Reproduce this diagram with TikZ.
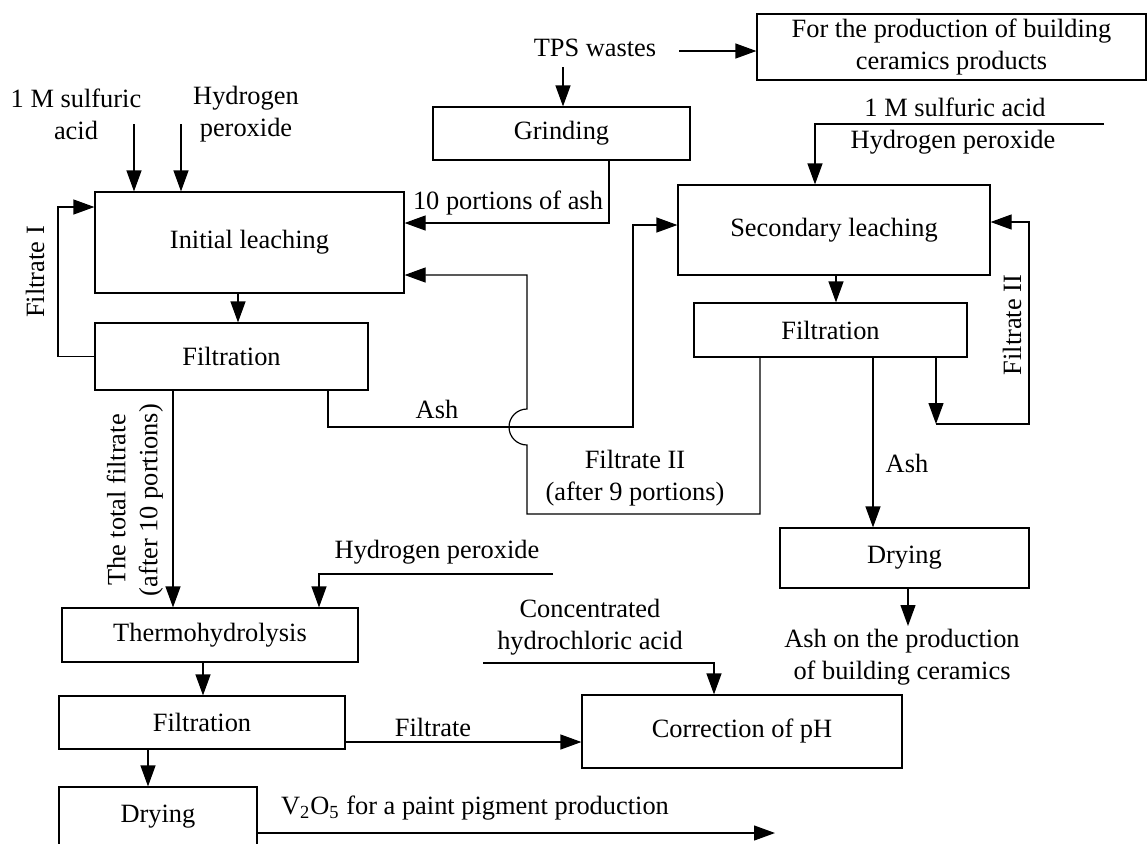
\documentclass[tikz,border=0pt]{standalone}
\usepackage{fontspec}
\setmainfont{Liberation Serif}
\usetikzlibrary{arrows.meta}
\begin{document}
\begin{tikzpicture}[x=0.5pt,y=-0.5pt,
  font=\fontsize{13.2}{16}\selectfont,
  box/.style={draw, inner sep=0pt, line width=0.6pt, align=center},
  lbl/.style={inner sep=0pt, align=center},
  arr/.style={-{Triangle[length=10.5pt,width=7.5pt]}, line width=0.6pt},
  ln/.style={line width=0.6pt}]
\useasboundingbox (0,0) rectangle (1148,843);
\clip (0,0) rectangle (1148,843);

% boxes
\node[box, minimum width=154.5pt, minimum height=50.5pt] (init) at (249.5,242.5) {Initial leaching};
\node[box, minimum width=136.5pt, minimum height=33.5pt] (filt1) at (231.5,356.5) {Filtration};
\node[box, minimum width=128.5pt, minimum height=26.5pt] (grind) at (561.5,133.5) {Grinding};
\node[box, minimum width=194.5pt, minimum height=33pt] (forprod) at (951.5,47) {For the production of building\\ceramics products};
\node[box, minimum width=156pt, minimum height=45pt] (sec) at (834,230) {Secondary leaching};
\node[box, minimum width=136.5pt, minimum height=27pt] (filt2) at (830.5,330) {Filtration};
\node[box, minimum width=124.5pt, minimum height=30pt] (dry2) at (904.5,558) {Drying};
\node[box, minimum width=148pt, minimum height=27pt] (thermo) at (210,635) {Thermohydrolysis};
\node[box, minimum width=143pt, minimum height=26.5pt] (filt3) at (202,722.5) {Filtration};
\node[box, minimum width=160pt, minimum height=36.5pt] (corr) at (742,731.5) {Correction of pH};
\node[box, minimum width=99pt, minimum height=30pt] (dry1) at (158,817) {Drying};

% labels
\node[lbl] (acid1) at (76,114) {1 M sulfuric\\acid};
\node[lbl] (hp1) at (246,114) {Hydrogen\\peroxide};
\node[lbl] (tps) at (595,48) {TPS wastes};
\node[lbl] (ten) at (508,203) {10 portions of ash};
\node[lbl] (acid2) at (955,107) {1 M sulfuric acid};
\node[lbl] (hp2) at (953,142) {Hydrogen peroxide};
\node[lbl, rotate=90] (fI) at (35,272) {Filtrate I};
\node[lbl, rotate=90] (total) at (135,500) {The total filtrate\\(after 10 portions)};
\node[lbl] (ash1) at (437,409) {Ash};
\node[lbl] (fII) at (635,478) {Filtrate II\\(after 9 portions)};
\node[lbl, rotate=90] (fIIr) at (1012,325) {Filtrate II};
\node[lbl] (ash2) at (907,463) {Ash};
\node[lbl] (ashprod) at (902,657) {Ash on the production\\of building ceramics};
\node[lbl] (hp3) at (437,552) {Hydrogen peroxide};
\node[lbl] (hcl) at (590,627) {Concentrated\\hydrochloric acid};
\node[lbl] (filtr) at (433,727) {Filtrate};
\node[lbl] (v2o5) at (475,808) {V\textsubscript{2}O\textsubscript{5} for a paint pigment production};

% helper coordinates
\coordinate (a1) at (134,124);
\coordinate (a2) at (181,124);
\coordinate (fIa) at (58,207);
\coordinate (x238) at (238,0);
\coordinate (x173) at (173,0);
\coordinate (ashA) at (328,427);
\coordinate (ashB) at (633,427);
\coordinate (ashC) at (633,225);
\coordinate (x328) at (328,0);
\coordinate (t1) at (563,67);
\coordinate (t2) at (679,51);
\coordinate (g1) at (609,0);
\coordinate (g2) at (609,223);
\coordinate (s1) at (1104,124);
\coordinate (s2) at (815,124);
\coordinate (x836) at (836,0);
\coordinate (x936) at (936,0);
\coordinate (l1) at (936,424);
\coordinate (l2) at (1029,424);
\coordinate (l3) at (1029,222);
\coordinate (x873) at (873,0);
\coordinate (x760) at (760,0);
\coordinate (f1) at (760,514);
\coordinate (f2) at (527,514);
\coordinate (f3) at (527,445);
\coordinate (f4) at (527,275);
\coordinate (x908) at (908,0);
\coordinate (d2) at (908,626);
\coordinate (h1) at (553,574);
\coordinate (h2) at (319,574);
\coordinate (x203) at (203,0);
\coordinate (y742) at (0,742);
\coordinate (x148) at (148,0);
\coordinate (c1) at (483,663);
\coordinate (c2) at (714,663);
\coordinate (v1) at (0,833);
\coordinate (v2) at (775,833);

% connectors
\draw[arr] (a1) -- (a1 |- init.north);
\draw[arr] (a2) -- (a2 |- init.north);
\draw[arr] (filt1.west) -| (fIa) -- (fIa -| init.west);
\draw[arr] (init.south -| x238) -- (filt1.north -| x238);
\draw[arr] (filt1.south -| x173) -- (thermo.north -| x173);
\draw[arr] (filt1.south -| x328) -- (ashA) -- (ashB) -- (ashC) -- (ashC -| sec.west);
\draw[arr] (t1) -- (t1 |- grind.north);
\draw[arr] (t2) -- (t2 -| forprod.west);
\draw[arr] (grind.south -| g1) -- (g2) -- (g2 -| init.east);
\draw[arr] (s1) -- (s2) -- (s2 |- sec.north);
\draw[arr] (sec.south -| x836) -- (filt2.north -| x836);
\draw[arr] (filt2.south -| x936) -- (l1);
\draw[arr] (l1) -- (l2) -- (l3) -- (l3 -| sec.east);
\draw[arr] (filt2.south -| x873) -- (dry2.north -| x873);
\draw[arr] (filt2.south -| x760) -- (f1) -- (f2) -- (f3)
  arc[start angle=270, end angle=90, radius=9pt] -- (f4) -- (f4 -| init.east);
\draw[arr] (dry2.south -| x908) -- (d2);
\draw[arr] (h1) -- (h2) -- (h2 |- thermo.north);
\draw[arr] (thermo.south -| x203) -- (filt3.north -| x203);
\draw[arr] (filt3.east |- y742) -- (y742 -| corr.west);
\draw[arr] (filt3.south -| x148) -- (dry1.north -| x148);
\draw[arr] (c1) -- (c2) -- (c2 |- corr.north);
\draw[arr] (dry1.east |- v1) -- (v2);
\end{tikzpicture}
\end{document}
